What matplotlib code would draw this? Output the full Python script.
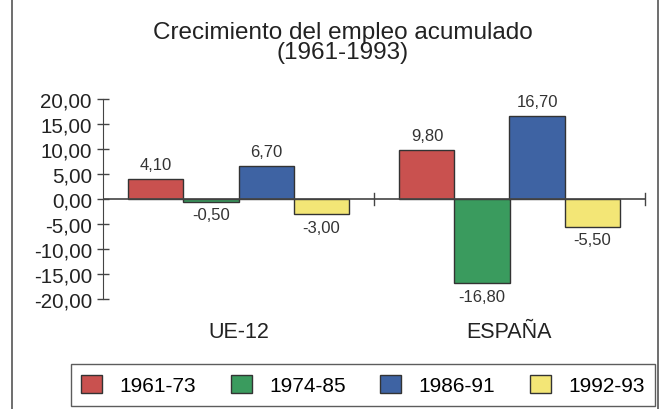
import numpy as np
import matplotlib
matplotlib.use("Agg")
import matplotlib.pyplot as plt
from matplotlib.lines import Line2D
from matplotlib.patches import Patch

# ===== 数据 =====
regions = ["UE-12", "ESPAÑA"]
periods = ["1961-73", "1974-85", "1986-91", "1992-93"]
values = {
    "1961-73": [4.10, 9.80],
    "1974-85": [-0.50, -16.80],
    "1986-91": [6.70, 16.70],
    "1992-93": [-3.00, -5.50],
}
colors = ["#c9514f", "#3a9b5e", "#3e63a3", "#f3e676"]
yticks = [20, 15, 10, 5, 0, -5, -10, -15, -20]

plt.rcParams["font.family"] = ["Liberation Sans", "DejaVu Sans"]

fig = plt.figure(figsize=(6.62, 4.10), dpi=100)
ax = fig.add_axes([103 / 662, 1 - 300 / 410, (645 - 103) / 662, 200 / 410])

x = np.arange(len(regions))
w = 0.203
for i, p in enumerate(periods):
    pos = x + (i - 1.5) * w
    vals = values[p]
    ax.bar(pos, vals, width=w, color=colors[i], edgecolor="#333333", linewidth=1)
    for xp, v in zip(pos, vals):
        lab = f"{v:.2f}".replace(".", ",")
        if v >= 0:
            ax.annotate(lab, (xp, v), xytext=(0, 5), textcoords="offset points",
                        ha="center", va="bottom", fontsize=12, color="#333333")
        else:
            ax.annotate(lab, (xp, v), xytext=(0, -4), textcoords="offset points",
                        ha="center", va="top", fontsize=12, color="#333333")

ax.set_xlim(-0.5, 1.5)
ax.set_ylim(-20, 20)
ax.set_yticks(yticks)
ax.set_yticklabels([f"{t:.2f}".replace(".", ",") for t in yticks], fontsize=14.8, color="#222222")
ax.tick_params(axis="y", direction="inout", length=8, width=1, color="#444444", pad=4)
ax.set_xticks([])
for s in ["top", "right", "bottom"]:
    ax.spines[s].set_visible(False)
ax.spines["left"].set_color("#444444")

# 零线及分隔刻度
ax.axhline(0, color="#444444", linewidth=1.2, zorder=3)
for xt in [0.5, 1.5]:
    ax.plot([xt, xt], [-1.2, 1.2], color="#444444", linewidth=1, zorder=3, clip_on=False)

for xi, r in zip(x, regions):
    ax.text(xi, -26.4, r, ha="center", va="center", fontsize=15.5, color="#222222")

fig.text(0.518, 1 - 43 / 410, "Crecimiento del empleo acumulado\n(1961-1993)", ha="center",
         va="center", fontsize=17.5, linespacing=0.85, color="#222222")

# 图框
fig.add_artist(Line2D([12 / 662, 12 / 662], [0, 1], color="#555555", linewidth=1.2))
fig.add_artist(Line2D([658 / 662, 658 / 662], [0, 1], color="#555555", linewidth=1.2))

handles = [Patch(facecolor=c, edgecolor="#333333", label=p) for c, p in zip(colors, periods)]
leg = fig.legend(handles=handles, loc="center", bbox_to_anchor=(363 / 662, 1 - 386 / 410),
                 ncol=4, fontsize=15, frameon=True, fancybox=False, edgecolor="#333333",
                 handlelength=1.0, handleheight=1.0, columnspacing=1.65, handletextpad=0.85,
                 borderpad=0.5, borderaxespad=0)
leg.get_frame().set_linewidth(1)

fig.savefig("out.png", dpi=100)
